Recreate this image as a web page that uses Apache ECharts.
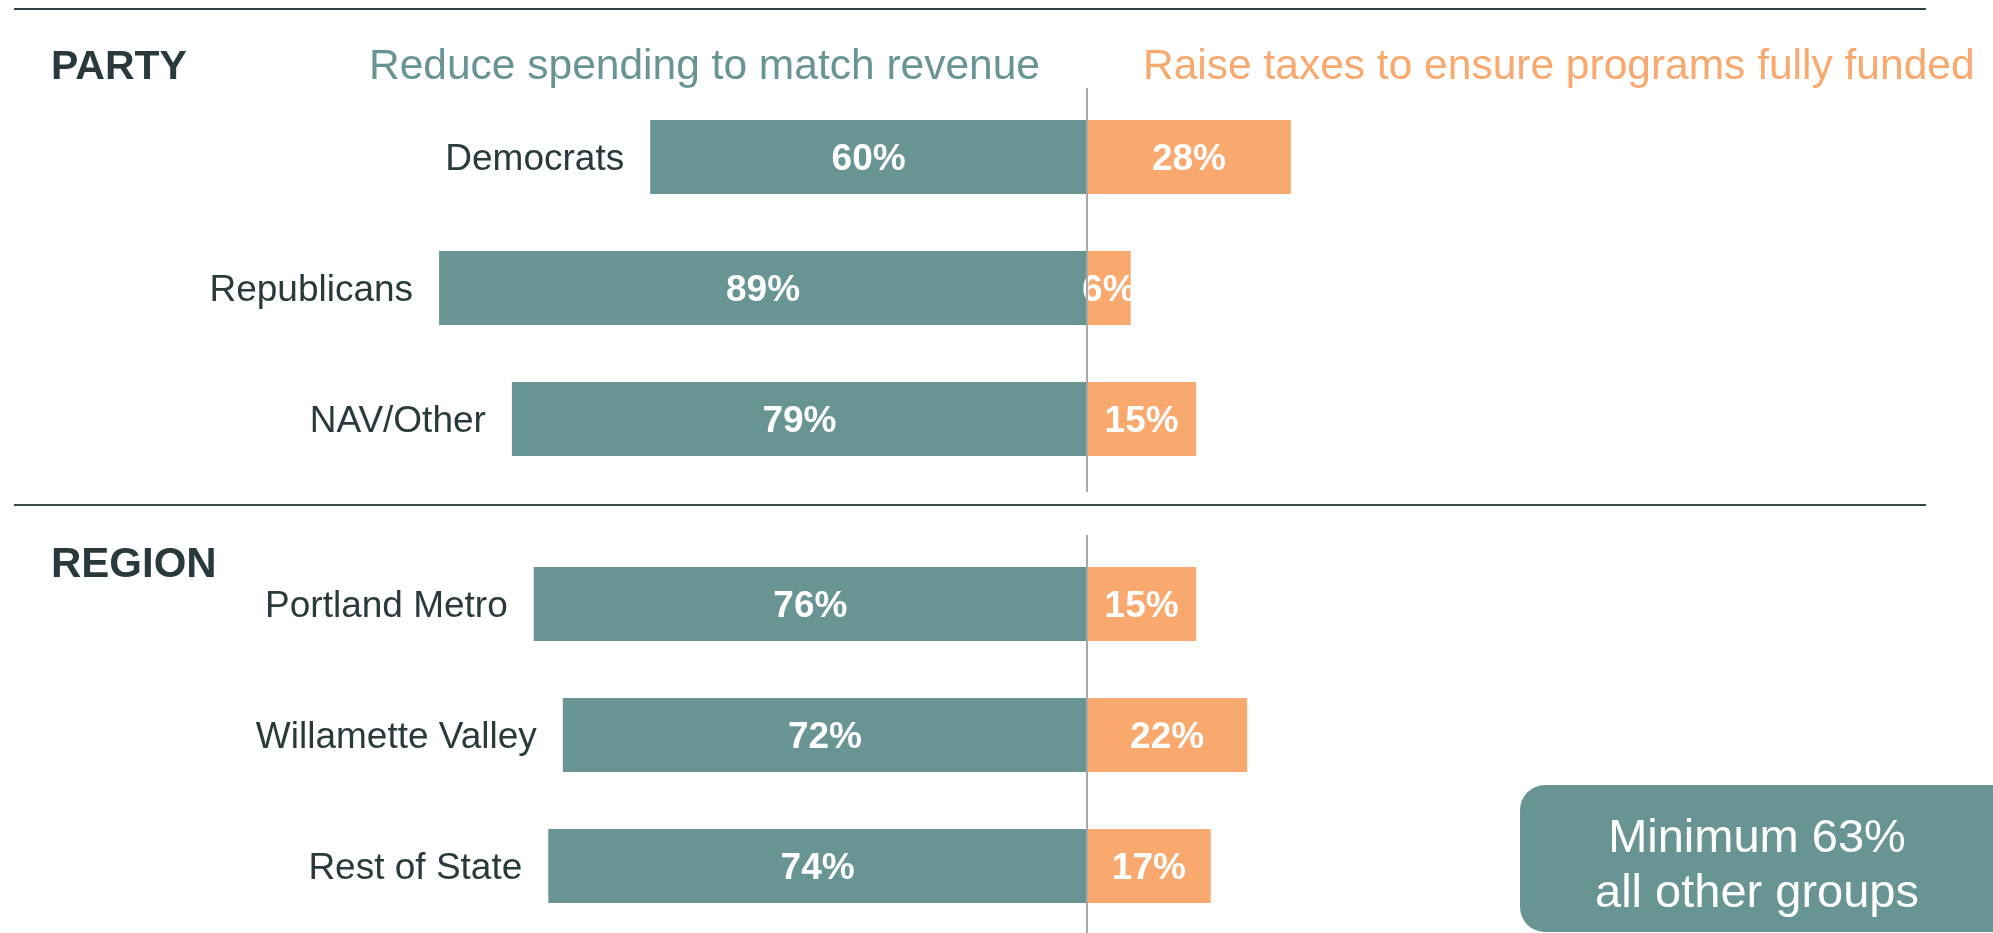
<!DOCTYPE html>
<html>
<head>
<meta charset="utf-8">
<title>Spending vs taxes by party and region</title>
<script src="https://cdn.jsdelivr.net/npm/echarts@6/dist/echarts.min.js"></script>
<style>
  html, body { margin: 0; padding: 0; background: #ffffff; }
  #chart { width: 1993px; height: 933px; }
</style>
</head>
<body>
<div id="chart"></div>
<script>
// Survey results: share preferring each option, by party and by region
const partyGroups = ['Democrats', 'Republicans', 'NAV/Other'];
const partyReduce = [60, 89, 79];
const partyRaise = [28, 6, 15];

const regionGroups = ['Portland Metro', 'Willamette Valley', 'Rest of State'];
const regionReduce = [76, 72, 74];
const regionRaise = [15, 22, 17];

const headerReduce = 'Reduce spending to match revenue';
const headerRaise = 'Raise taxes to ensure programs fully funded';
const sectionTitles = ['PARTY', 'REGION'];
const calloutLines = ['Minimum 63%', 'all other groups'];

const TEAL = '#689494';
const ORANGE = '#F9A86E';
const DARK = '#2A3A3C';
const FONT = '"Liberation Sans", Arial, sans-serif';

const chart = echarts.init(document.getElementById('chart'), null, { renderer: 'canvas' });

function grid(top, bottom) {
  return { left: 359, right: 178, top: top, height: bottom - top, containLabel: false };
}

function barSeries(axisIdx, groups, reduce, raise) {
  const common = {
    type: 'bar',
    xAxisIndex: axisIdx,
    yAxisIndex: axisIdx,
    barWidth: 74,
    barGap: '-100%',
    animation: false
  };
  const valueLabel = {
    show: true, position: 'inside', color: '#fff', offset: [0, 3],
    fontFamily: FONT, fontWeight: 'bold', fontSize: 37, overflow: 'none'
  };
  return [
    Object.assign({}, common, {
      name: 'reduce',
      data: reduce.map(v => -v),
      itemStyle: { color: TEAL },
      label: Object.assign({}, valueLabel, { formatter: p => Math.abs(p.value) + '%' })
    }),
    Object.assign({}, common, {
      name: 'raise',
      data: raise,
      itemStyle: { color: ORANGE },
      label: Object.assign({}, valueLabel, { formatter: p => p.value + '%' })
    }),
    // transparent copy of the left bars that carries the group names
    Object.assign({}, common, {
      name: 'names',
      data: reduce.map(v => -v),
      itemStyle: { color: 'rgba(0,0,0,0)' },
      silent: true,
      z: 1,
      label: {
        show: true, position: 'left', distance: 26, color: DARK, offset: [0, 3],
        fontFamily: FONT, fontSize: 37,
        formatter: p => groups[p.dataIndex]
      }
    })
  ];
}

function valueAxis(idx) {
  return {
    type: 'value', gridIndex: idx, min: -100, max: 100,
    axisLine: { show: false }, axisTick: { show: false },
    axisLabel: { show: false }, splitLine: { show: false }
  };
}

function catAxis(idx, groups) {
  return {
    type: 'category', gridIndex: idx, data: groups, inverse: true,
    axisLine: { show: false }, axisTick: { show: false },
    axisLabel: { show: false }, splitLine: { show: false }
  };
}

const staticGraphics = [
  { type: 'line', shape: { x1: 14, y1: 9, x2: 1926, y2: 9 }, style: { stroke: '#2F4244', lineWidth: 2 } },
  { type: 'line', shape: { x1: 14, y1: 505, x2: 1926, y2: 505 }, style: { stroke: '#3E4B4D', lineWidth: 2 } },
  { type: 'text', x: 51, y: 68, style: { text: sectionTitles[0], fill: DARK, font: 'bold 41px ' + FONT, verticalAlign: 'middle' } },
  { type: 'text', x: 51, y: 565, style: { text: sectionTitles[1], fill: DARK, font: 'bold 42px ' + FONT, verticalAlign: 'middle' } },
  { type: 'text', x: 369, y: 67, style: { text: headerReduce, fill: TEAL, font: '42.5px ' + FONT, verticalAlign: 'middle' } },
  { type: 'text', x: 1143, y: 67, style: { text: headerRaise, fill: ORANGE, font: '42.5px ' + FONT, verticalAlign: 'middle' } },
  { type: 'rect', shape: { x: 1520, y: 785, width: 500, height: 147, r: 25 }, style: { fill: TEAL } },
  { type: 'text', x: 1757, y: 839, style: { text: calloutLines[0], fill: '#ffffff', font: '47px ' + FONT, align: 'center', verticalAlign: 'middle' } },
  { type: 'text', x: 1757, y: 894, style: { text: calloutLines[1], fill: '#ffffff', font: '47px ' + FONT, align: 'center', verticalAlign: 'middle' } }
];

const option = {
  backgroundColor: '#ffffff',
  animation: false,
  grid: [grid(91.5, 484.5), grid(538.5, 931.5)],
  xAxis: [valueAxis(0), valueAxis(1)],
  yAxis: [catAxis(0, partyGroups), catAxis(1, regionGroups)],
  series: [
    ...barSeries(0, partyGroups, partyReduce, partyRaise),
    ...barSeries(1, regionGroups, regionReduce, regionRaise)
  ],
  graphic: staticGraphics
};

chart.setOption(option);

// vertical divider at the zero point of each section, drawn over the bars
const zeroTop = chart.convertToPixel({ xAxisIndex: 0 }, 0);
const zeroBottom = chart.convertToPixel({ xAxisIndex: 1 }, 0);
chart.setOption({
  graphic: staticGraphics.concat([
    { type: 'line', z: 10, shape: { x1: zeroTop, y1: 88, x2: zeroTop, y2: 492 }, style: { stroke: '#A9A9A9', lineWidth: 2 } },
    { type: 'line', z: 10, shape: { x1: zeroBottom, y1: 535, x2: zeroBottom, y2: 933 }, style: { stroke: '#A9A9A9', lineWidth: 2 } }
  ])
}, { replaceMerge: ['graphic'] });
</script>
</body>
</html>
